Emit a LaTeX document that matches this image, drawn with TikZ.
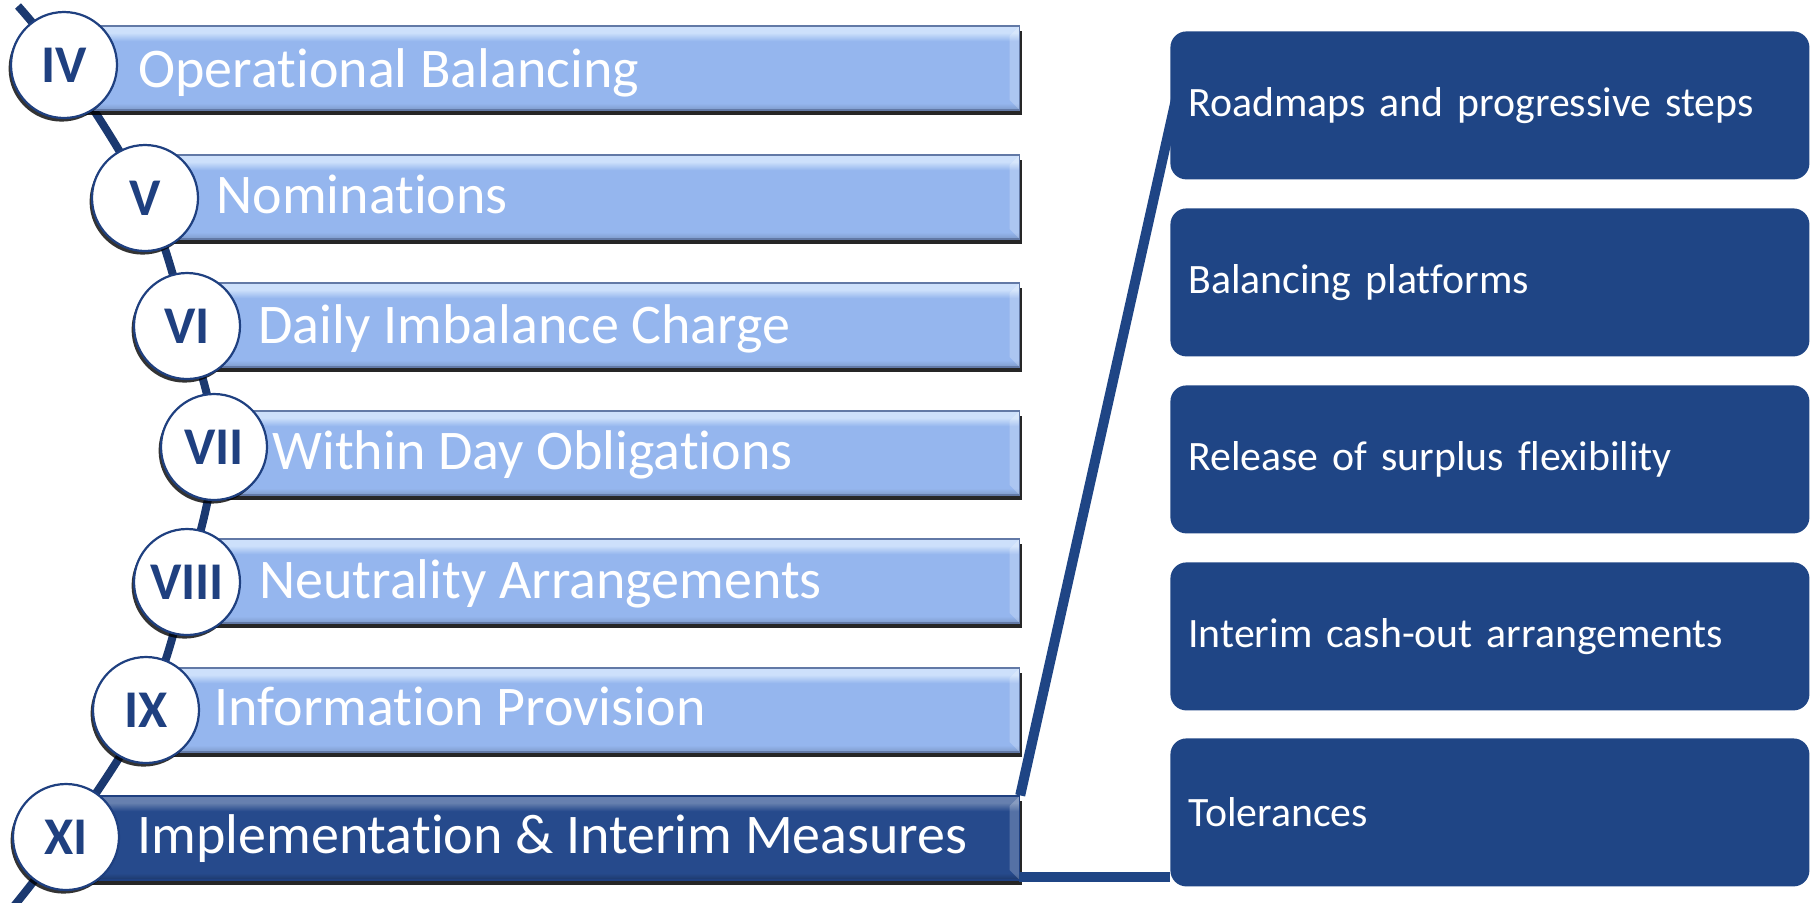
\documentclass[tikz,border=0pt]{standalone}
\usepackage{fontspec}
\setmainfont{Carlito}[Ligatures={NoCommon}]
\usetikzlibrary{shadows,backgrounds}

\definecolor{navy}{RGB}{31,69,133}
\definecolor{spineblue}{RGB}{27,57,112}
\definecolor{barblue}{RGB}{149,182,238}
\definecolor{barlight}{RGB}{205,224,251}
\definecolor{bardark}{RGB}{38,74,140}
\definecolor{numblue}{RGB}{31,64,128}

% bar bevels: the bounding box maps to 25bp..75bp
\pgfdeclareverticalshading{lightbar}{100bp}{color(0bp)=(barblue!80!black); color(25bp)=(barblue!85!black);
  color(29bp)=(barblue); color(66bp)=(barblue); color(71bp)=(barlight); color(75bp)=(barlight); color(100bp)=(barlight)}
\pgfdeclareverticalshading{darkbar}{100bp}{color(0bp)=(bardark!70!black); color(25bp)=(bardark!75!black);
  color(29bp)=(bardark); color(66bp)=(bardark); color(71bp)=(bardark!70!white); color(75bp)=(bardark!70!white); color(100bp)=(bardark!70!white)}

\begin{document}
\begin{tikzpicture}[x=0.5pt,y=-0.5pt,
    bar/.style={rectangle, anchor=west, minimum height=42pt, inner sep=0pt,
      draw=numblue!70, line width=0.6pt, shading=lightbar,
      path picture={\fill[white, opacity=0.22] (path picture bounding box.north east) -- ++(-5pt,-5pt)
        -- ([xshift=-5pt,yshift=5pt]path picture bounding box.south east)
        -- (path picture bounding box.south east) -- cycle;},
      drop shadow={shadow xshift=1pt, shadow yshift=-2.5pt, opacity=0.85, fill=black}},
    topbar/.style={bar, shading=darkbar, draw=numblue},
    num/.style={circle, draw=numblue, line width=1.1pt, fill=white, minimum size=53pt, inner sep=0pt,
      text=numblue, font=\bfseries\fontsize{26.5}{28}\selectfont,
      drop shadow={shadow xshift=-1.2pt, shadow yshift=-1.8pt, opacity=0.8, fill=black}},
    label/.style={anchor=base west, inner sep=0pt, text=white, font=\fontsize{28}{31}\selectfont},
    item/.style={rectangle, rounded corners=8pt, fill=navy, anchor=north west,
      minimum width=319.5pt, minimum height=74pt, text width=301.5pt, inner xsep=9pt,
      align=left, text=white, font=\fontsize{20.9}{24}\selectfont},
    spine/.style={draw=spineblue, line width=4pt},
    link/.style={draw=navy, line width=5pt}]

    \useasboundingbox (0,0) rectangle (1810,902);

    % bars
    \node[bar, minimum width=477.5pt] (b4) at (64,68) {};
    \node[bar, minimum width=437pt] (b5) at (145,197) {};
    \node[bar, minimum width=416pt] (b6) at (187,325) {};
    \node[bar, minimum width=402.5pt] (b7) at (214,453) {};
    \node[bar, minimum width=416pt] (b8) at (187,581) {};
    \node[bar, minimum width=436.5pt] (b9) at (146,710) {};
    \node[topbar, minimum width=475.5pt] (b11) at (68,838) {};

    % bar titles
    \node[label] (t4) at (138,87) {Operational Balancing};
    \node[label] (t5) at (216,213) {Nominations};
    \node[label] (t6) at (258,343) {Daily Imbalance Charge};
    \node[label] (t7) at (272,469) {Within Day Obligations};
    \node[label] (t8) at (259,598) {Neutrality Arrangements};
    \node[label] (t9) at (214,725) {Information Provision};
    \node[label] (t11) at (137,853) {Implementation \& Interim Measures};

    % chapter circles
    \node[num] (c4) at (64,65) {IV};
    \node[num] (c5) at (145,198) {V};
    \node[num] (c6) at (187,326) {VI};
    \node[num] (c7) at (214,447) {VII};
    \node[num] (c8) at (187,582) {VIII};
    \node[num] (c9) at (146,710) {IX};
    \node[num] (c11) at (66,837) {XI};

    \coordinate (top) at (18,6);
    \coordinate (bot) at (14,906);

    \begin{scope}[on background layer]
      \draw[spine] plot[smooth, tension=0.6] coordinates {(top) (c4.center) (c5.center) (c6.center)
        (c7.center) (c8.center) (c9.center) (c11.center) (bot)};
    \end{scope}

    % interim measures
    \node[item] (r1) at (1170,31) {Roadmaps and progressive steps};
    \node[item] (r2) at (1170,208) {Balancing platforms};
    \node[item] (r3) at (1170,385) {Release of surplus flexibility};
    \node[item] (r4) at (1170,562) {Interim cash-out arrangements};
    \node[item] (r5) at (1170,738) {Tolerances};

    \coordinate (r1in) at (1187,50);
    \coordinate (b11se) at (1019,877);

    \draw[link] (b11.north east) -- (r1in);
    \draw[link] (b11se) -- (r5.west |- b11se);
\end{tikzpicture}
\end{document}
